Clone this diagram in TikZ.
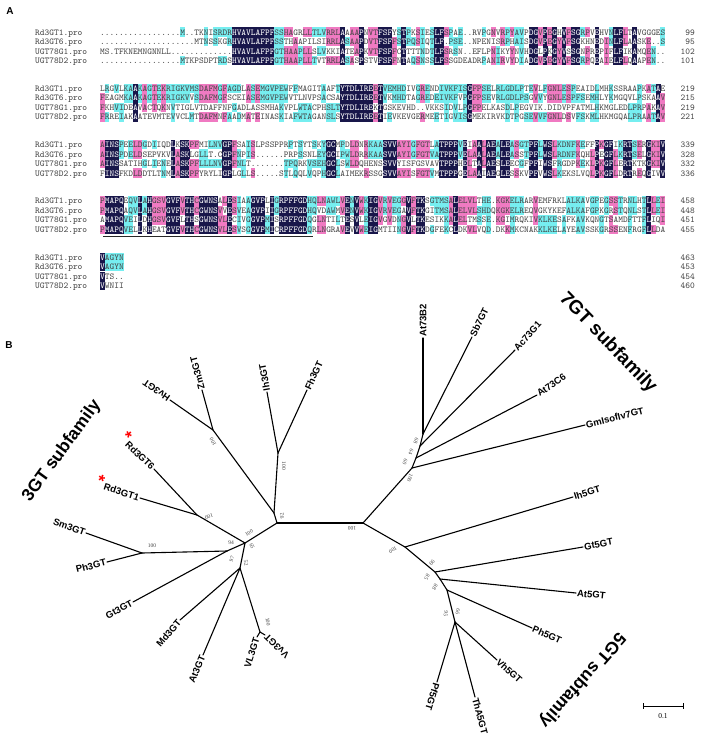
\documentclass[tikz,border=0pt]{standalone}
\usepackage{fontspec}
\setmainfont{Liberation Serif}
\setsansfont{Liberation Sans}
\definecolor{alnnavy}{RGB}{24,22,74}
\definecolor{alnpink}{RGB}{240,122,194}
\definecolor{alncyan}{RGB}{118,238,240}
\definecolor{alntext}{RGB}{70,70,70}
\newcommand\alnfont{\fontsize{9}{9}\selectfont\ttfamily}
\newcommand\alnc[1]{\hbox to 4.71pt{\hss#1\hss}}
\newcommand\alnw[1]{\hbox to 4.71pt{\hss\textcolor{white}{#1}\hss}}
\newcommand\alncell[4]{\fill[#4] (#1,#2) rectangle ++(#3,9.4);}
\newcommand\alnrowtext[3]{\node[alnseq] (#3) at (100,#1) {#2};}
\newcommand\alnmeta[6]{%
  \node[alnname] (nm#1a) at (35,#2+3) {Rd3GT1.pro};
  \node[alnname] (nm#1b) at (35,#2+12.5) {Rd3GT6.pro};
  \node[alnname] (nm#1c) at (35,#2+22) {UGT78G1.pro};
  \node[alnname] (nm#1d) at (35,#2+31.5) {UGT78D2.pro};
  \node[alnnum] (nu#1a) at (695,#2+3) {#3};
  \node[alnnum] (nu#1b) at (695,#2+12.5) {#4};
  \node[alnnum] (nu#1c) at (695,#2+22) {#5};
  \node[alnnum] (nu#1d) at (695,#2+31.5) {#6};}
\ExplSyntaxOn
\int_new:N \l_aln_cnt_int
\int_new:N \g_aln_block_int
\tl_new:N \l_aln_c_tl
\tl_new:N \l_aln_d_tl
\tl_new:N \l_aln_x_tl
\tl_new:N \l_aln_y_tl
\tl_new:N \l_aln_col_tl
\tl_new:N \l_aln_row_tl
\tl_new:N \l_aln_rr_tl
\int_step_inline:nn {4} { \tl_new:c { l_aln_s_#1_tl } \tl_new:c { l_aln_o_#1_tl } }
\cs_new_protected:Npn \aln_plain:
  { \tl_put_right:cx { l_aln_o_ \l_aln_row_tl _tl } { \exp_not:N \alnc { \exp_not:V \l_aln_c_tl } } }
\cs_new_protected:Npn \aln_cell:n #1
  {
    \use:x { \exp_not:N \alncell { \l_aln_x_tl } { \l_aln_y_tl } { 4.76 } { #1 } }
  }
\cs_new_protected:Npn \aln_block:nnnnnnnnn #1#2#3#4#5#6#7#8#9
  {
    \int_gincr:N \g_aln_block_int
    \tl_set:cn { l_aln_s_1_tl } {#2}
    \tl_set:cn { l_aln_s_2_tl } {#3}
    \tl_set:cn { l_aln_s_3_tl } {#4}
    \tl_set:cn { l_aln_s_4_tl } {#5}
    \int_step_inline:nn {4} { \tl_clear:c { l_aln_o_##1_tl } }
    \int_step_variable:nNn { \tl_count:n {#2} } \l_aln_col_tl
      {
        \int_step_variable:nNn { 4 } \l_aln_row_tl
          {
            \tl_set:Nx \l_aln_c_tl { \exp_args:Nc \tl_item:Nn { l_aln_s_ \l_aln_row_tl _tl } { \l_aln_col_tl } }
            \int_zero:N \l_aln_cnt_int
            \str_if_eq:VnF \l_aln_c_tl { . }
              {
                \int_step_variable:nNn { 4 } \l_aln_rr_tl
                  {
                    \tl_set:Nx \l_aln_d_tl { \exp_args:Nc \tl_item:Nn { l_aln_s_ \l_aln_rr_tl _tl } { \l_aln_col_tl } }
                    \tl_if_eq:NNT \l_aln_c_tl \l_aln_d_tl { \int_incr:N \l_aln_cnt_int }
                  }
              }
            \tl_set:Nx \l_aln_x_tl { \fp_eval:n { 100 + ( \l_aln_col_tl - 1 ) * 4.71 } }
            \tl_set:Nx \l_aln_y_tl { \fp_eval:n { #1 + ( \l_aln_row_tl - 1 ) * 9.5 - 4.7 } }
            \int_case:nnF { \l_aln_cnt_int }
              {
                { 4 } { \aln_cell:n { alnnavy } \tl_put_right:cx { l_aln_o_ \l_aln_row_tl _tl } { \exp_not:N \alnw { \exp_not:V \l_aln_c_tl } } }
                { 3 } { \aln_cell:n { alnpink } \aln_plain: }
                { 2 } { \aln_cell:n { alncyan } \aln_plain: }
              }
              { \aln_plain: }
          }
      }
    \int_step_variable:nNn { 4 } \l_aln_row_tl
      {
        \tl_set:Nx \l_aln_y_tl { \fp_eval:n { #1 + ( \l_aln_row_tl - 1 ) * 9.5 + 3 } }
        \use:x { \exp_not:N \alnrowtext { \l_aln_y_tl } { \exp_not:v { l_aln_o_ \l_aln_row_tl _tl } } { sq \int_use:N \g_aln_block_int r \l_aln_row_tl } }
      }
    \use:x { \exp_not:N \alnmeta { \int_use:N \g_aln_block_int } { #1 } { #6 } { #7 } { #8 } { #9 } }
  }
\cs_new_eq:NN \alnblock \aln_block:nnnnnnnnn
\ExplSyntaxOff
\tikzset{
  alnseq/.style={anchor=base west,inner sep=0pt,font=\alnfont,text=alntext},
  alnname/.style={anchor=base west,inner sep=0pt,font=\alnfont,text=alntext},
  alnnum/.style={anchor=base east,inner sep=0pt,font=\alnfont,text=alntext},
  panel/.style={font=\sffamily\bfseries\fontsize{10}{11}\selectfont,inner sep=0pt},
  br/.style={line width=1.1pt,line cap=round,line join=round},
  tipl/.style={font=\sffamily\bfseries\fontsize{9.5}{10}\selectfont,inner sep=1pt},
  boot/.style={font=\rmfamily\fontsize{5.5}{6}\selectfont,inner sep=0pt,text=black!75},
  fam/.style={font=\sffamily\bfseries\fontsize{17.5}{18}\selectfont,inner sep=0pt},
  star/.style={text=red,font=\sffamily\bfseries\fontsize{17}{17}\selectfont}
}
\begin{document}
\begin{tikzpicture}[x=1pt,y=-1pt]
\useasboundingbox (0,0) rectangle (708,748);
\node[panel] (pA) at (10,11) {A};
\node[panel] (pB) at (9,345) {B};
% ---------------- alignment ----------------
\alnblock{32}%
{.................M..TKNISRDRHVAVLAFPFSSHAGRLLTLVRRLAAAAPNVTFSFYSTPKSIESLFSPAE..RVPGNVRPYAVPDGVPEGHVFSGRPVEHVNLFLTAVGGGES}%
{....................MTNSSKGRHVAVLAFPFSSTHAAPILSIRRLASAAPDVTFSFFSTPQSIQTLF.PSE..NPENISRPHAISDGVPEGYVFSGKHNEDINLFLAASKE..S}%
{MS.TFKNEMNGNNLL.............HVAVLAFPFGTHAAPLLSLVKKIATEAPKVTFSFFCTTTTNDTLFSRSN..EFLPNIKYYNVHDGLPKGYVSSGNPREPIFLFIKAMQEN..}%
{.................MTKPSDPTRDSHVAVLAFPFGTHAAPLLTVTRRLASASPSTVFSFFNTAQSNSSLFSSGDEADRPANIRVYDIADGVPEGYVFSGRPQEAIELFLQAAPEN..}%
{99}{95}{102}{101}
\alnblock{88.3}%
{LRGVLKAAKAGTEKRIGKVMSDAFMGFAGDLASEMGVPEWFFMAGITAAFTYTDLIREETVEMHDIVGRENDIVKFISGFPSELRLGDLPTEVLFGNLESPEAIDLMHKSSRAAPKATAE}%
{FEAGMKAAKAGTEKRIGKVVSDAFMGFSCEIASEMGVPEWVTLNVPSACSAYTDLIREETVKMHDTAGREDEIVKFVPGFPSEVRLGDLPSGVVYGNLESPFSEMHLYKMGQVLPSKAAV}%
{FKHVIDEAVACTQKNVTIGLVTDAFFNFGADLASSMHAKVPLWTACPHSLTYTDLIREKTGSKEVHD..VKKSIDVLPGFPELKASDLPEGVIK.DIDVPFATMLHKMGLEDLPRPAKAV}%
{FRREIAKAATEVMTEVVCLMTDAFMNFAADMATEINASKIAFWTAGANSLSYTDLIREETIEVKEVGERMEETIGVISGMEKIRVKDTPGSEVVFGNLDSVFSKMLHKMGQALPRAATAV}%
{219}{215}{219}{221}
\alnblock{144.6}%
{AINSPEELDGDIIQDLKSKPFMILNVGPFSAISLPSSPPRPTSYTSKYGCMPDLDNRKAASVVAYIGFGTLATPPPVEIAALAEALEASGTPFLWSLKDNFKEFFPKGFIKRTSERGKIV}%
{AINSPDELDSEPVKVLASKLGLLT.CGPFNPIS......PRPSSNLEYGCIPWLDRRKAASVVAYIGFGTVATPPPVELAALAEALEASSTPFLWSLRDNFKQHLPEGFLKRTSELGKIV}%
{AINSSATIHGLIENELASKPFLLLNVGPFNLT.......TPQRKVSEHGCLSWLDQHENSSVVYISFGSVAVTPPPHELTALAESLEECGFPFIWSFRGDPKEKLPKGFLERTKTKGKIV}%
{FINSFKDLDDTLTNMLASKPFYRYLIGPLGLLS.....STLQQLVQPHGCLAIMEKRSSGSVVAYISFGTVMTPPPGELAAIAEGLESSKVPFVWSLKEKSLVQLPKGFLDRTREQGIVV}%
{339}{328}{332}{336}
\alnblock{200.9}%
{PMAPQEQVLAHGSVGVFVTHCGWNSALESIAAGVPLIGRPFFGDHQLNAWLVENVWKIGVRVEGGVFTKSGTMSALELVLTHE.KGKELRARVEMFRKLALKAVGPEGSSTRNLHTLLEI}%
{PMAPQAQVLAHGSVGVFVTHCGWNSVVESVEAGVPIIGRPFFGDHQVDAWMVENVWKIGVRVEGAVFTKGITMSALELVLSHDQKGKELREQVGKYKEFALKAFGPKGRSTQNLSTLLEI}%
{AMAPQVEILDHGSVGVFLTHSGWNSVLECIVGGVPMISRPFFGDQGLNTILTESVLEIGVGVDNGVLTKESIKKALELTMSSE.KGIMRQKIVKLKESAFKAVKQNGTSAMDFTTFLIQI}%
{PMAPQVELLKHEATGVFVTHCGWNSVLESVSGGVPMICRPFFGDQRLNGRAVEVVWEIGMTIINGVFTKDGFEKCLDKVLVQD.DKKMKCNAKKLKELAYEAVSSKGRSSENFRGFLLDA}%
{458}{448}{451}{455}
\coordinate (ulA) at (103,236);
\coordinate (ulB) at (313,236);
\draw[line width=0.9pt,black!85] (ulA) -- (ulB);
\alnblock{257.2}{VAGYN}{VAGYN}{VTS..}{VWNII}{463}{453}{454}{460}
% ---------------- tree ----------------
\coordinate (L1) at (277,523);
\coordinate (R1) at (363,523);
\coordinate (L2) at (274,513);
\coordinate (NFI) at (278,453);
\coordinate (tIh) at (267,392);
\coordinate (tFh) at (307,390);
\coordinate (NHZ) at (213,430);
\coordinate (tHv) at (170,400);
\coordinate (tZm) at (202,390);
\coordinate (NA) at (245,543);
\coordinate (NRd) at (197,515);
\coordinate (tRd6) at (154,469);
\coordinate (tRd1) at (140,498);
\coordinate (NB) at (227,551);
\coordinate (NSP) at (142,553);
\coordinate (tSm) at (86,533);
\coordinate (tPh) at (107,562);
\coordinate (tGt) at (133,602);
\coordinate (NC) at (240,568);
\coordinate (tMd) at (180,620);
\coordinate (tAt) at (203,655);
\coordinate (NVV) at (260,632);
\coordinate (tVL) at (257,637);
\coordinate (tVv) at (265,635);
\coordinate (N7a) at (412,468);
\coordinate (N7b) at (416,458);
\coordinate (N7c) at (420,446);
\coordinate (N7d) at (423,434);
\coordinate (tB2) at (423,338);
\coordinate (tSb) at (472,337);
\coordinate (tAc) at (515,350);
\coordinate (tC6) at (537,395);
\coordinate (tGm) at (585,425);
\coordinate (N5a) at (405,547);
\coordinate (tIh5) at (573,497);
\coordinate (N5b) at (435,572);
\coordinate (tGt5) at (583,547);
\coordinate (N5c) at (440,579);
\coordinate (tAt5) at (576,593);
\coordinate (N5d) at (447,590);
\coordinate (tPh5) at (532,628);
\coordinate (N5e) at (455,622);
\coordinate (tVh5) at (497,660);
\coordinate (tPf5) at (437,682);
\coordinate (tTh5) at (475,697);
\draw[br] (L1) -- (R1);
\draw[br] (L1) -- (L2);
\draw[br] (L2) -- (NFI);
\draw[br] (NFI) -- (tIh);
\draw[br] (NFI) -- (tFh);
\draw[br] (L2) -- (NHZ);
\draw[br] (NHZ) -- (tHv);
\draw[br] (NHZ) -- (tZm);
\draw[br] (L1) -- (NA);
\draw[br] (NA) -- (NRd);
\draw[br] (NRd) -- (tRd6);
\draw[br] (NRd) -- (tRd1);
\draw[br] (NA) -- (NB);
\draw[br] (NB) -- (NSP);
\draw[br] (NSP) -- (tSm);
\draw[br] (NSP) -- (tPh);
\draw[br] (NB) -- (tGt);
\draw[br] (NA) -- (NC);
\draw[br] (NC) -- (tMd);
\draw[br] (NC) -- (tAt);
\draw[br] (NC) -- (NVV);
\draw[br] (NVV) -- (tVL);
\draw[br] (NVV) -- (tVv);
\draw[br] (R1) -- (N7a);
\draw[br] (N7a) -- (N7b);
\draw[br] (N7b) -- (N7c);
\draw[br] (N7c) -- (N7d);
\draw[br] (N7a) -- (tGm);
\draw[br] (N7b) -- (tC6);
\draw[br] (N7c) -- (tAc);
\draw[br] (N7d) -- (tB2);
\draw[br] (N7d) -- (tSb);
\draw[br] (R1) -- (N5a);
\draw[br] (N5a) -- (tIh5);
\draw[br] (N5a) -- (N5b);
\draw[br] (N5b) -- (tGt5);
\draw[br] (N5b) -- (N5c);
\draw[br] (N5c) -- (tAt5);
\draw[br] (N5c) -- (N5d);
\draw[br] (N5d) -- (tPh5);
\draw[br] (N5d) -- (N5e);
\draw[br] (N5e) -- (tVh5);
\draw[br] (N5e) -- (tPf5);
\draw[br] (N5e) -- (tTh5);
% tip labels
\node[tipl,rotate=145,anchor=west] (lHv) at (tHv) {Hv3GT};
\node[tipl,rotate=105,anchor=west] (lZm) at (tZm) {Zm3GT};
\node[tipl,rotate=100,anchor=west] (lIh) at (tIh) {Ih3GT};
\node[tipl,rotate=65,anchor=west] (lFh) at (tFh) {Fh3GT};
\node[tipl,rotate=-44,anchor=east] (lRd6) at (tRd6) {Rd3GT6};
\node[tipl,rotate=-18,anchor=east] (lRd1) at (tRd1) {Rd3GT1};
\node[star,rotate=-44,anchor=east,inner sep=0pt] (sRd6) at (lRd6.north west) {*};
\node[star,rotate=-18,anchor=east,inner sep=0pt] (sRd1) at (lRd1.north west) {*};
\node[tipl,rotate=-20,anchor=east] (lSm) at (tSm) {Sm3GT};
\node[tipl,rotate=14,anchor=east] (lPh) at (tPh) {Ph3GT};
\node[tipl,rotate=28,anchor=east] (lGt) at (tGt) {Gt3GT};
\node[tipl,rotate=49,anchor=east] (lMd) at (tMd) {Md3GT};
\node[tipl,rotate=67,anchor=east] (lAt) at (tAt) {At3GT};
\node[tipl,rotate=72,anchor=east] (lVL) at (tVL) {VL3GT};
\node[tipl,rotate=136,anchor=east] (lVv) at (tVv) {Vv3GT};
\node[tipl,rotate=90,anchor=west] (lB2) at (tB2) {At73B2};
\node[tipl,rotate=64,anchor=west] (lSb) at (tSb) {Sb7GT};
\node[tipl,rotate=48,anchor=west] (lAc) at (tAc) {Ac73G1};
\node[tipl,rotate=35,anchor=west] (lC6) at (tC6) {At73C6};
\node[tipl,rotate=14,anchor=west] (lGm) at (tGm) {GmIsoflv7GT};
\node[tipl,rotate=17,anchor=west] (lIh5) at (tIh5) {Ih5GT};
\node[tipl,rotate=10,anchor=west] (lGt5) at (tGt5) {Gt5GT};
\node[tipl,rotate=-6,anchor=west] (lAt5) at (tAt5) {At5GT};
\node[tipl,rotate=-24,anchor=west] (lPh5) at (tPh5) {Ph5GT};
\node[tipl,rotate=-42,anchor=west] (lVh5) at (tVh5) {Vh5GT};
\node[tipl,rotate=-107,anchor=west] (lPf5) at (tPf5) {Pf5GT};
\node[tipl,rotate=-75,anchor=west] (lTh5) at (tTh5) {ThA5GT};
% family labels
\node[fam,rotate=54] (f3) at (62,451) {3GT subfamily};
\node[fam,rotate=-46,font=\sffamily\bfseries\fontsize{19}{20}\selectfont] (f7) at (608,343) {7GT subfamily};
\node[fam,rotate=228.6] (f5) at (582,680) {5GT subfamily};
% bootstrap values
\node[boot,rotate=180] (b1) at (352,528) {100};
\node[boot,rotate=100] (b2) at (282,516) {92};
\node[boot,rotate=-90] (b3) at (284,466) {100};
\node[boot,rotate=120] (b4) at (213,442) {100};
\node[boot,rotate=200] (b5) at (209,517) {100};
\node[boot] (b6) at (152,546) {100};
\node[boot] (b7) at (231,543) {94};
\node[boot,rotate=30] (b8) at (249,533) {100};
\node[boot,rotate=-70] (b9) at (252,546) {65};
\node[boot,rotate=70] (b10) at (232,559) {97};
\node[boot,rotate=-80] (b11) at (246,563) {52};
\node[boot,rotate=-80] (b12) at (268,622) {100};
\node[boot,rotate=-110] (b13) at (410,478) {100};
\node[boot,rotate=-110] (b14) at (405,462) {60};
\node[boot,rotate=-110] (b15) at (411,452) {64};
\node[boot,rotate=-110] (b16) at (416,441) {68};
\node[boot,rotate=210] (b17) at (393,550) {100};
\node[boot,rotate=-130] (b18) at (432,563) {99};
\node[boot,rotate=-120] (b19) at (427,577) {85};
\node[boot,rotate=-120] (b20) at (435,587) {88};
\node[boot,rotate=-100] (b21) at (446,614) {95};
\node[boot,rotate=-100] (b22) at (458,612) {66};
% scale bar
\coordinate (sb1) at (643,706);
\coordinate (sb2) at (683,706);
\draw[line width=0.9pt] (sb1) -- (sb2);
\draw[line width=0.9pt] ([yshift=3pt]sb1) -- ([yshift=-3pt]sb1);
\draw[line width=0.9pt] ([yshift=3pt]sb2) -- ([yshift=-3pt]sb2);
\node[font=\rmfamily\fontsize{7.5}{8}\selectfont,inner sep=0pt] (sbl) at (663,716) {0.1};
\end{tikzpicture}
\end{document}
